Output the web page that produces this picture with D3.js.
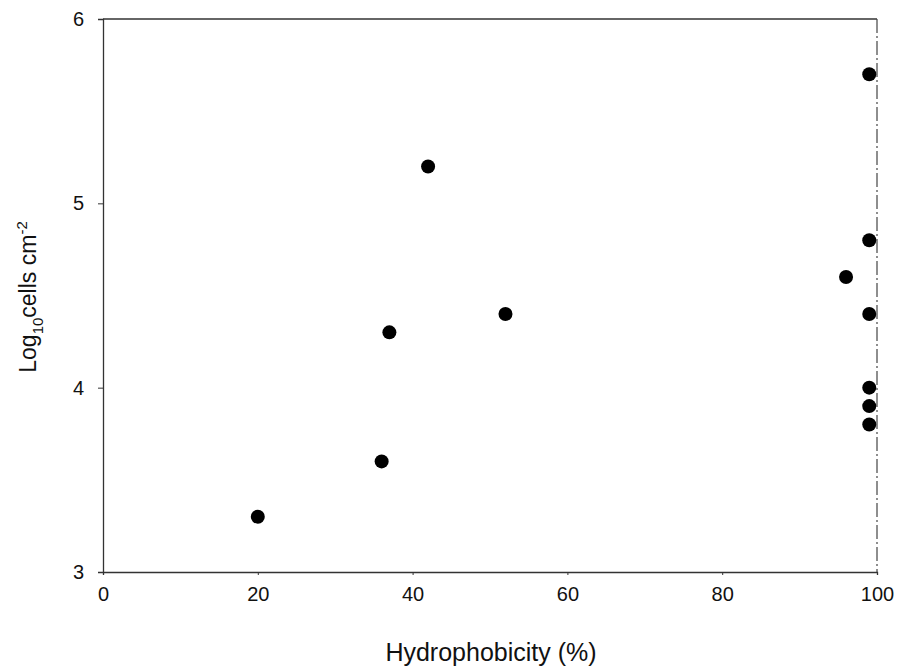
<!DOCTYPE html>
<html><head><meta charset="utf-8">
<script src="https://cdn.jsdelivr.net/npm/d3@7"></script>
<style>body{margin:0;background:#fff}svg{font-family:"Liberation Sans",Arial,sans-serif}</style>
</head><body><svg id="c" width="899" height="671"></svg>
<script>
const hydrophobicity = [20, 36, 37, 42, 52, 96, 99, 99, 99, 99, 99, 99];
const logCells = [3.3, 3.6, 4.3, 5.2, 4.4, 4.6, 5.7, 4.8, 4.4, 4.0, 3.9, 3.8];
const xTicks = [0, 20, 40, 60, 80, 100];
const yTicks = [3, 4, 5, 6];

const svg = d3.select("#c");
const m = {l:103, r:877, t:19, b:572};
const x = d3.scaleLinear().domain([0,100]).range([m.l, m.r]);
const y = d3.scaleLinear().domain([3,6]).range([m.b, m.t]);

const xa = svg.append("g").attr("transform",`translate(0,${m.b})`)
  .call(d3.axisBottom(x).tickValues(xTicks).tickFormat(d3.format("d")).tickSize(3).tickPadding(12));
const ya = svg.append("g").attr("transform",`translate(${m.l},0)`)
  .call(d3.axisLeft(y).tickValues(yTicks).tickFormat(d3.format("d")).tickSize(5).tickPadding(14));
[xa, ya].forEach(a => {
  a.selectAll("text").attr("font-size", 20).attr("fill", "#111").attr("font-family","Liberation Sans, Arial, sans-serif");
  a.selectAll("line").attr("stroke", "#333");
  a.select(".domain").attr("stroke", "#333").attr("stroke-width", 1.3);
});
// top and right frame
svg.append("line").attr("x1", m.l).attr("x2", m.r).attr("y1", m.t).attr("y2", m.t).attr("stroke","#333").attr("stroke-width",1.3);
svg.append("line").attr("x1", m.r).attr("x2", m.r).attr("y1", m.t).attr("y2", m.b).attr("stroke","#444").attr("stroke-width",1.2).attr("stroke-dasharray","14,3,2,3");

svg.append("g").selectAll("circle").data(hydrophobicity.map((h,i)=>[h,logCells[i]]))
  .join("circle").attr("cx", d=>x(d[0])).attr("cy", d=>y(d[1])).attr("r", 7).attr("fill", "#000");

svg.append("text").attr("x", 491).attr("y", 661).attr("text-anchor","middle")
  .attr("font-size", 25).attr("fill","#111").text("Hydrophobicity (%)");

const yl = svg.append("text").attr("transform", "translate(36,297) rotate(-90)").attr("text-anchor","middle")
  .attr("font-size", 23).attr("fill","#111");
yl.append("tspan").text("Log");
yl.append("tspan").attr("font-size", 15).attr("dy", 7).text("10");
yl.append("tspan").attr("dy", -7).text("cells cm");
yl.append("tspan").attr("font-size", 15).attr("dy", -9).text("-2");
</script></body></html>
